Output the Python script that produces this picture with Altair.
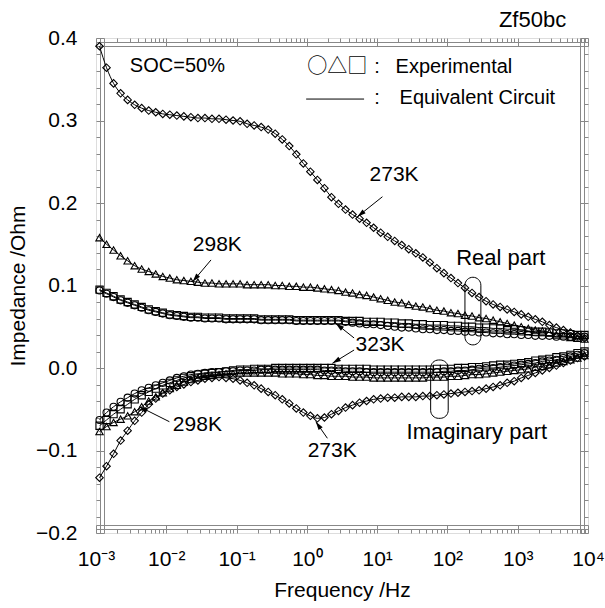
import math
import altair as alt
import numpy as np
import pandas as pd

W, H = 492, 495
X_DOM = [1e-3, 1e4]
Y_DOM = [-0.2, 0.4]
FONT = "Liberation Sans"

# frequency sweep, 10 points per decade
freq = np.logspace(-2.95, 3.95, 70)

# real part (Ohm)
re_diamond = [0.390, 0.364, 0.345, 0.333, 0.325, 0.319, 0.315, 0.312, 0.310, 0.308,
              0.307, 0.306, 0.305, 0.304, 0.303, 0.303, 0.302, 0.302, 0.301, 0.300,
              0.299, 0.296, 0.294, 0.292, 0.289, 0.284, 0.277, 0.269, 0.259, 0.248,
              0.238, 0.228, 0.218, 0.207, 0.199, 0.192, 0.186, 0.181, 0.176, 0.170,
              0.164, 0.159, 0.154, 0.149, 0.144, 0.139, 0.134, 0.128, 0.121, 0.115,
              0.109, 0.103, 0.097, 0.091, 0.086, 0.081, 0.077, 0.074, 0.071, 0.068,
              0.065, 0.062, 0.059, 0.056, 0.052, 0.049, 0.046, 0.043, 0.039, 0.036]
re_triangle = [0.158, 0.150, 0.143, 0.136, 0.130, 0.124, 0.120, 0.117, 0.114, 0.111,
               0.109, 0.107, 0.106, 0.105, 0.104, 0.103, 0.103, 0.102, 0.102, 0.102,
               0.102, 0.101, 0.101, 0.101, 0.101, 0.100, 0.100, 0.099, 0.099, 0.098,
               0.098, 0.097, 0.096, 0.095, 0.094, 0.092, 0.091, 0.089, 0.088, 0.086,
               0.084, 0.082, 0.080, 0.079, 0.077, 0.075, 0.074, 0.072, 0.070, 0.069,
               0.067, 0.066, 0.064, 0.063, 0.061, 0.060, 0.058, 0.056, 0.054, 0.052,
               0.050, 0.048, 0.046, 0.045, 0.043, 0.040, 0.039, 0.037, 0.036, 0.035]
re_square = [0.095, 0.091, 0.087, 0.083, 0.080, 0.077, 0.074, 0.071, 0.069, 0.067,
             0.065, 0.064, 0.063, 0.062, 0.062, 0.061, 0.061, 0.061, 0.060, 0.060,
             0.060, 0.060, 0.060, 0.059, 0.059, 0.059, 0.059, 0.059, 0.058, 0.058,
             0.058, 0.058, 0.058, 0.058, 0.058, 0.057, 0.057, 0.057, 0.056, 0.056,
             0.056, 0.055, 0.055, 0.054, 0.054, 0.053, 0.053, 0.052, 0.052, 0.052,
             0.051, 0.051, 0.050, 0.050, 0.049, 0.049, 0.048, 0.048, 0.047, 0.047,
             0.046, 0.045, 0.044, 0.044, 0.043, 0.042, 0.042, 0.041, 0.040, 0.040]
re_circle = [0.094, 0.090, 0.086, 0.082, 0.079, 0.076, 0.073, 0.070, 0.068, 0.066,
             0.064, 0.063, 0.062, 0.061, 0.061, 0.060, 0.060, 0.060, 0.059, 0.059,
             0.059, 0.059, 0.059, 0.058, 0.058, 0.058, 0.058, 0.058, 0.057, 0.057,
             0.057, 0.057, 0.057, 0.057, 0.057, 0.056, 0.055, 0.054, 0.053, 0.053,
             0.052, 0.051, 0.050, 0.049, 0.049, 0.048, 0.047, 0.047, 0.046, 0.046,
             0.045, 0.045, 0.044, 0.044, 0.043, 0.043, 0.042, 0.042, 0.041, 0.041,
             0.040, 0.040, 0.039, 0.039, 0.039, 0.038, 0.038, 0.038, 0.038, 0.038]

# imaginary part (Ohm)
im_diamond = [-0.133, -0.119, -0.104, -0.088, -0.076, -0.064, -0.054, -0.044, -0.037, -0.031,
              -0.027, -0.023, -0.020, -0.017, -0.015, -0.013, -0.012, -0.011, -0.012, -0.013,
              -0.015, -0.018, -0.021, -0.025, -0.029, -0.033, -0.038, -0.043, -0.049, -0.054,
              -0.058, -0.061, -0.060, -0.056, -0.052, -0.048, -0.045, -0.042, -0.040, -0.038,
              -0.037, -0.036, -0.036, -0.035, -0.035, -0.035, -0.034, -0.034, -0.033, -0.032,
              -0.031, -0.030, -0.029, -0.028, -0.027, -0.025, -0.023, -0.021, -0.018, -0.016,
              -0.012, -0.009, -0.006, -0.003, 0.000, 0.003, 0.006, 0.009, 0.012, 0.014]
im_triangle = [-0.077, -0.071, -0.066, -0.062, -0.058, -0.053, -0.047, -0.040, -0.035, -0.030,
               -0.025, -0.021, -0.017, -0.014, -0.012, -0.010, -0.009, -0.008, -0.007, -0.007,
               -0.006, -0.006, -0.006, -0.006, -0.006, -0.006, -0.007, -0.007, -0.007, -0.008,
               -0.008, -0.009, -0.009, -0.010, -0.010, -0.010, -0.011, -0.011, -0.011, -0.012,
               -0.012, -0.012, -0.012, -0.012, -0.012, -0.012, -0.012, -0.011, -0.011, -0.011,
               -0.010, -0.010, -0.009, -0.008, -0.008, -0.007, -0.006, -0.005, -0.004, -0.003,
               -0.002, -0.001, 0.001, 0.002, 0.004, 0.006, 0.008, 0.010, 0.012, 0.015]
im_square = [-0.070, -0.063, -0.056, -0.050, -0.044, -0.038, -0.033, -0.029, -0.025, -0.021,
             -0.018, -0.015, -0.012, -0.010, -0.008, -0.007, -0.006, -0.005, -0.004, -0.003,
             -0.002, -0.002, -0.001, -0.001, -0.001, 0.000, 0.000, 0.000, 0.000, 0.000,
             0.000, 0.000, 0.000, 0.000, -0.001, -0.001, -0.001, -0.001, -0.001, -0.002,
             -0.002, -0.002, -0.002, -0.002, -0.002, -0.002, -0.002, -0.002, -0.001, -0.001,
             -0.001, 0.000, 0.000, 0.001, 0.001, 0.002, 0.003, 0.004, 0.004, 0.005,
             0.006, 0.007, 0.009, 0.010, 0.011, 0.013, 0.014, 0.016, 0.018, 0.020]
im_circle = [-0.063, -0.054, -0.047, -0.041, -0.036, -0.031, -0.027, -0.024, -0.021, -0.018,
             -0.015, -0.012, -0.010, -0.008, -0.007, -0.006, -0.005, -0.005, -0.004, -0.004,
             -0.003, -0.003, -0.003, -0.002, -0.002, -0.002, -0.002, -0.002, -0.002, -0.002,
             -0.002, -0.002, -0.003, -0.003, -0.003, -0.004, -0.004, -0.004, -0.005, -0.005,
             -0.005, -0.005, -0.005, -0.005, -0.005, -0.005, -0.005, -0.005, -0.005, -0.004,
             -0.004, -0.003, -0.003, -0.002, -0.001, 0.000, 0.000, 0.001, 0.002, 0.003,
             0.004, 0.005, 0.006, 0.008, 0.009, 0.010, 0.012, 0.014, 0.016, 0.018]

series = {
    ("re", "diamond"): re_diamond, ("re", "triangle-up"): re_triangle,
    ("re", "square"): re_square, ("re", "circle"): re_circle,
    ("im", "diamond"): im_diamond, ("im", "triangle-up"): im_triangle,
    ("im", "square"): im_square, ("im", "circle"): im_circle,
}
rows = []
for (part, shape), vals in series.items():
    for f, z in zip(freq, vals):
        rows.append({"f": float(f), "z": z, "part": part, "shape": shape,
                     "series": part + "-" + shape})
df = pd.DataFrame(rows)

# annotation texts: (text, frequency, value, font size)
labels = pd.DataFrame([
    ("SOC=50%", 0.01439, 0.366, 20),
    ("273K", 17.4, 0.234, 21),
    ("298K", 0.0532, 0.149, 21),
    ("Real part", 575, 0.133, 22),
    ("323K", 11.0, 0.028, 21),
    ("Imaginary part", 262, -0.0776, 22),
    ("298K", 0.0277, -0.069, 21),
    ("273K", 2.29, -0.1006, 21),
    (":", 9.98, 0.365, 20),
    (":", 9.98, 0.327, 20),
    ("Experimental", 123.6, 0.365, 20),
    ("Equivalent Circuit", 266.6, 0.327, 20),
], columns=["text", "f", "z", "size"])
legend_symbols = pd.DataFrame([{"text": "○△□", "f": 2.70, "z": 0.365}])
legend_line = pd.DataFrame([{"f": 0.977, "f2": 6.52, "z": 0.326}])

# leader arrows: start point -> tip
arrows = pd.DataFrame([
    (11.9, 0.2076, 5.24, 0.1834),
    (0.0433, 0.131, 0.0237, 0.1046),
    (4.70, 0.0364, 2.58, 0.054),
    (4.70, 0.0218, 2.31, 0.0057),
    (0.01107, -0.0651, 0.00415, -0.0469),
    (1.96, -0.0852, 1.34, -0.065),
], columns=["f", "z", "f2", "z2"])


def to_px(f, z):
    px = W * (math.log10(f) - math.log10(X_DOM[0])) / (math.log10(X_DOM[1]) - math.log10(X_DOM[0]))
    py = H * (Y_DOM[1] - z) / (Y_DOM[1] - Y_DOM[0])
    return px, py


angles = []
for r in arrows.itertuples():
    x0, y0 = to_px(r.f, r.z)
    x1, y1 = to_px(r.f2, r.z2)
    angles.append(math.degrees(math.atan2(x1 - x0, -(y1 - y0))) % 360)
arrows["angle"] = angles

# capsules grouping the real / imaginary curves
capsules = pd.DataFrame([
    (177.5, 299.0, 0.028, 0.110),
    (57.7, 102.6, -0.061, 0.0097),
], columns=["f", "f2", "z", "z2"])

xs = alt.Scale(type="log", domain=X_DOM, nice=False)
ys = alt.Scale(domain=Y_DOM, nice=False, zero=False)

decades = [1e-3, 1e-2, 1e-1, 1e0, 1e1, 1e2, 1e3, 1e4]
sup = {-3: "⁻³", -2: "⁻²", -1: "⁻¹", 0: "⁰", 1: "¹", 2: "²", 3: "³", 4: "⁴"}
label_expr = "".join(
    f"abs(log(datum.value)/LN10 - ({e})) < 0.01 ? '10{s}' : " for e, s in sup.items()
) + "''"
x_minor = [m * 10.0 ** e for e in range(-3, 4) for m in range(2, 10)]
y_major = [-0.2, -0.1, 0.0, 0.1, 0.2, 0.3, 0.4]
y_minor = [round(-0.2 + 0.02 * i, 2) for i in range(31) if i % 5 != 0]

MAJOR, MINOR = 8, 4

# ticks point inward: each axis line is pulled inside the frame by its tick length
ax_bottom = alt.Axis(orient="bottom", values=decades, labelExpr=label_expr,
                     tickSize=MAJOR, offset=-MAJOR, labelFlush=False,
                     labelPadding=15, labelFontSize=21, labelFont=FONT,
                     title="Frequency /Hz", titleFontSize=21, titleFont=FONT,
                     titleFontWeight="normal", titleX=W / 2, titleY=57 + MAJOR,
                     titleBaseline="middle")
ax_left = alt.Axis(orient="left", values=y_major, format=".1f",
                   tickSize=MAJOR, offset=-MAJOR, labelFlush=False,
                   labelPadding=19, labelFontSize=21, labelFont=FONT,
                   title="Impedance /Ohm", titleFontSize=21, titleFont=FONT,
                   titleFontWeight="normal", titleX=-78 - MAJOR, titleY=H / 2,
                   titleBaseline="middle", titleAngle=270)


def axis_layer(x_axis, y_axis):
    return alt.Chart(df).mark_point(opacity=0).encode(
        x=alt.X("f:Q", scale=xs, axis=x_axis),
        y=alt.Y("z:Q", scale=ys, axis=y_axis),
    )


def plain(orient, values, size):
    return alt.Axis(orient=orient, values=values, tickSize=size, offset=-size,
                    labels=False, title=None)


axes = [
    axis_layer(ax_bottom, ax_left),
    axis_layer(plain("top", decades, MAJOR), plain("right", y_major, MAJOR)),
    axis_layer(plain("bottom", x_minor, MINOR), plain("left", y_minor, MINOR)),
    axis_layer(plain("top", x_minor, MINOR), plain("right", y_minor, MINOR)),
]

X = lambda field="f": alt.X(f"{field}:Q", scale=xs, axis=None)
Y = lambda field="z": alt.Y(f"{field}:Q", scale=ys, axis=None)

fit_lines = alt.Chart(df).mark_line(color="black", strokeWidth=1, interpolate="monotone").encode(
    x=X(), y=Y(), detail="series:N", order="f:Q")

shapes = ["diamond", "triangle-up", "square", "circle"]
markers = alt.Chart(df).mark_point(color="black", filled=False, strokeWidth=1.1, opacity=1).encode(
    x=X(), y=Y(),
    shape=alt.Shape("shape:N", scale=alt.Scale(domain=shapes, range=shapes), legend=None),
    size=alt.Size("shape:N", scale=alt.Scale(domain=shapes, range=[56, 50, 38, 38]), legend=None),
)

texts = alt.Chart(labels).mark_text(font=FONT, color="black", baseline="middle", align="center").encode(
    x=X(), y=Y(), text="text:N",
    size=alt.Size("size:Q", scale=None, legend=None))

symbols = alt.Chart(legend_symbols).mark_text(
    font="Noto Sans CJK JP", fontSize=20, color="black", baseline="middle", align="center"
).encode(x=X(), y=Y(), text="text:N")

legend_rule = alt.Chart(legend_line).mark_rule(color="black", strokeWidth=1).encode(
    x=X(), x2="f2:Q", y=Y())

arrow_lines = alt.Chart(arrows).mark_rule(color="black", strokeWidth=1).encode(
    x=X(), y=Y(), x2="f2:Q", y2="z2:Q")
arrow_heads = alt.Chart(arrows).mark_point(
    shape="M0,0L0.5,1.7L-0.5,1.7Z", filled=True, color="black", size=100, opacity=1
).encode(x=X("f2"), y=Y("z2"), angle=alt.Angle("angle:Q", scale=None))

caps = alt.Chart(capsules).mark_rect(filled=False, stroke="black", strokeWidth=1, cornerRadius=8).encode(
    x=X(), x2="f2:Q", y=Y(), y2="z2:Q")

chart = alt.layer(
    fit_lines, markers, caps, arrow_lines, arrow_heads, legend_rule, texts, symbols, *axes
).resolve_axis(x="independent", y="independent").properties(
    width=W, height=H,
    autosize=alt.AutoSizeParams(type="none"),
    padding={"left": 96, "top": 38, "right": 17, "bottom": 75},
    title=alt.TitleParams("Zf50bc", anchor="end", font=FONT, fontSize=22, fontWeight="normal",
                          color="black", dx=-38, dy=13, offset=8),
).configure_view(stroke="black", strokeWidth=1.3).configure_axis(
    domain=False, grid=False, tickColor="black", tickWidth=1, labelColor="black", titleColor="black"
).configure(background="white")

chart.save("out.html", embed_options={"renderer": "svg", "actions": False})
